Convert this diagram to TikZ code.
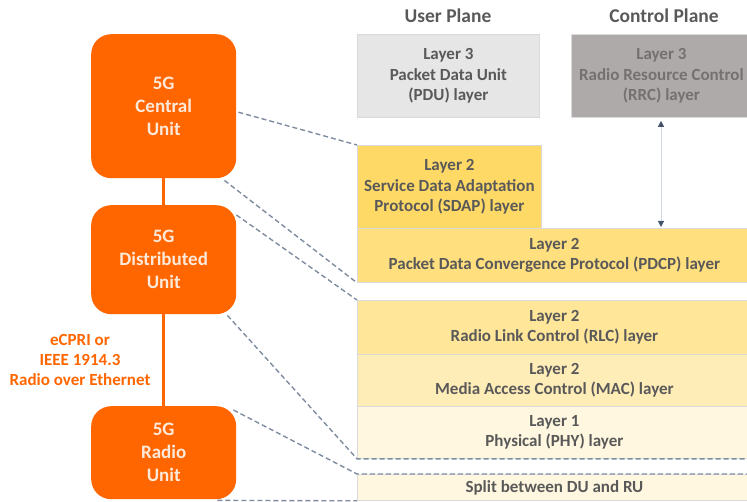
\documentclass[tikz,border=0pt]{standalone}
\usepackage{fontspec}
\setmainfont{Carlito}
\usetikzlibrary{arrows.meta,calc}

\definecolor{unitorange}{HTML}{FF6600}
\definecolor{unittext}{HTML}{FDE9D9}
\definecolor{labelgray}{HTML}{595959}
\definecolor{pdufill}{HTML}{E7E6E6}
\definecolor{rrcfill}{HTML}{AEAAAA}
\definecolor{rrctext}{HTML}{767171}
\definecolor{sdapfill}{HTML}{FFD966}
\definecolor{pdcpfill}{HTML}{FFDF7E}
\definecolor{rlcfill}{HTML}{FFE699}
\definecolor{macfill}{HTML}{FFEDB8}
\definecolor{phyfill}{HTML}{FFF7DF}
\definecolor{boxedge}{HTML}{DADADA}
\definecolor{splitline}{HTML}{7F8CA0}
\definecolor{arrowline}{HTML}{D3D9E3}
\definecolor{arrowhead}{HTML}{44546A}

\tikzset{
  unit/.style={draw=none, fill=unitorange, rounded corners=20pt,
    minimum width=145pt, anchor=north west, align=center,
    text=unittext, font=\fontsize{19}{23}\selectfont\bfseries, inner sep=0pt},
  layerbox/.style={draw=boxedge, line width=0.8pt, anchor=north west,
    align=center, text=labelgray, inner sep=0pt,
    font=\fontsize{17}{20.5}\selectfont\bfseries},
  header/.style={text=labelgray, font=\fontsize{19.5}{22}\selectfont\bfseries},
  linklabel/.style={text=unitorange, align=center,
    font=\fontsize{17}{20}\selectfont\bfseries},
  splitdash/.style={draw=splitline, line width=1.4pt, dash pattern=on 5pt off 3pt},
  unitlink/.style={draw=unitorange, line width=3pt},
  planearrow/.style={draw=arrowline, line width=1pt,
    {Triangle[length=6pt,width=6pt,fill=arrowhead,color=arrowhead]}-{Triangle[length=6pt,width=6pt,fill=arrowhead,color=arrowhead]}}
}

\begin{document}
\begin{tikzpicture}[x=1pt,y=-1pt]
\useasboundingbox (0,0) rectangle (747,502);

% plane headings
\node[header] (uphead) at (448,16) {User Plane};
\node[header] (cphead) at (664,16) {Control Plane};

% protocol stack
\node[layerbox, fill=pdufill, minimum width=182pt, minimum height=83pt] (pdu) at (357,34)
  {Layer 3\\Packet Data Unit\\(PDU) layer};
\node[layerbox, fill=rrcfill, text=rrctext, minimum width=180pt, minimum height=83pt] (rrc) at (571,34)
  {Layer 3\\Radio Resource Control\\(RRC) layer};
\node[layerbox, fill=sdapfill, minimum width=184pt, minimum height=83pt] (sdap) at (357,145)
  {Layer 2\\Service Data Adaptation\\Protocol (SDAP) layer};
\node[layerbox, fill=pdcpfill, minimum width=394pt, minimum height=54pt] (pdcp) at (357,228)
  {Layer 2\\Packet Data Convergence Protocol (PDCP) layer};
\node[layerbox, fill=rlcfill, minimum width=394pt, minimum height=54pt] (rlc) at (357,300)
  {Layer 2\\Radio Link Control (RLC) layer};
\node[layerbox, fill=macfill, minimum width=394pt, minimum height=52pt] (mac) at (357,354)
  {Layer 2\\Media Access Control (MAC) layer};
\node[layerbox, fill=phyfill, minimum width=394pt, minimum height=52pt] (phy) at (357,406)
  {Layer 1\\Physical (PHY) layer};
\node[layerbox, fill=phyfill, minimum width=394pt, minimum height=26pt] (split) at (357,474)
  {Split between DU and RU};

% control plane link between RRC and PDCP
\coordinate (rrcfoot) at ($(rrc.south west)+(90,3)$);
\coordinate (pdcptop) at ($(pdcp.north west)+(304,-1)$);
\draw[planearrow] (rrcfoot) -- (pdcptop);

% 5G units
\node[unit, minimum height=144pt] (cu) at (91,34) {5G\\Central\\Unit};
\node[unit, minimum height=109pt] (du) at (91,205) {5G\\Distributed\\Unit};
\node[unit, minimum height=93pt] (ru) at (91,406) {5G\\Radio\\Unit};

\draw[unitlink] (cu.south) -- (du.north);
\draw[unitlink] (du.south) -- (ru.north);

\node[linklabel] (fronthaul) at (80,360) {eCPRI or\\IEEE 1914.3\\Radio over Ethernet};

% function split boundaries
\draw[splitdash] ($(cu.east)+(2,6)$) -- (sdap.north west);
\draw[splitdash] ($(cu.south east)+(-12,2)$) -- (pdcp.south west);
\draw[splitdash] ($(du.north east)+(0,10)$) -- (rlc.north west);
\draw[splitdash] ($(du.south east)+(-9,1)$) -- (phy.south west) -- (phy.south east);
\draw[splitdash] ($(ru.north east)+(-3,4)$) -- (split.north west) -- (split.north east);
\draw[splitdash] ($(ru.south east)+(-19,1)$) -- (split.south west);
\end{tikzpicture}
\end{document}
